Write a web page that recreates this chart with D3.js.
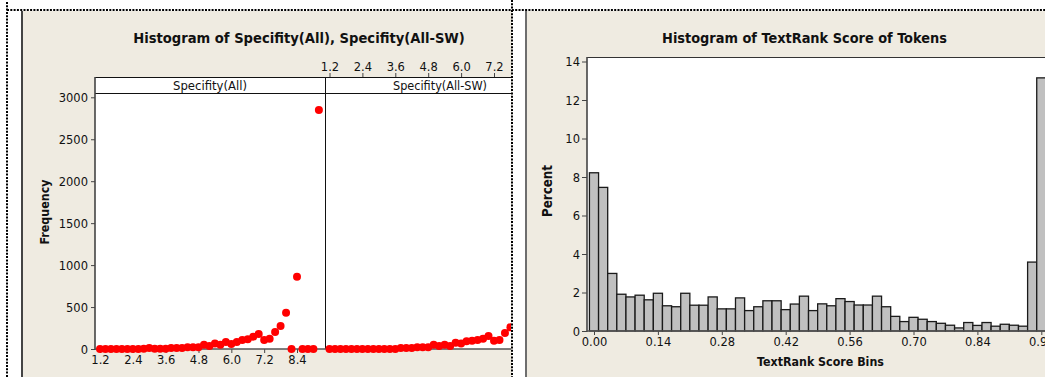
<!DOCTYPE html>
<html>
<head>
<meta charset="utf-8">
<script src="https://cdn.jsdelivr.net/npm/d3@7"></script>
<style>
  html, body { margin: 0; padding: 0; background: #ffffff; }
  svg { display: block; }
</style>
</head>
<body>
<svg id="chart" width="1045" height="377"></svg>
<script>
// ---------------- DATA ----------------
// Left chart: Specifity histograms (bin midpoints, frequency)
const specBins = [1.2, 1.4, 1.6, 1.8, 2.0, 2.2, 2.4, 2.6, 2.8, 3.0, 3.2, 3.4, 3.6, 3.8, 4.0, 4.2, 4.4, 4.6, 4.8, 5.0,
                  5.2, 5.4, 5.6, 5.8, 6.0, 6.2, 6.4, 6.6, 6.8, 7.0, 7.2, 7.4, 7.6, 7.8, 8.0, 8.2, 8.4, 8.6, 8.8, 9.0, 9.2];
const specAll = [0, 0, 0, 0, 0, 0, 0, 0, 4, 12, 4, 4, 4, 12, 12, 12, 20, 20, 20, 52,
                 36, 67, 52, 83, 60, 83, 107, 115, 147, 179, 107, 123, 202, 274, 433, 0, 860, 0, 0, 0, 2850];
const specAllSW = [0, 0, 0, 0, 0, 0, 0, 0, 0, 0, 0, 0, 0, 12, 12, 12, 20, 20, 20, 52,
                   36, 52, 36, 75, 67, 91, 99, 107, 123, 155, 99, 107, 191, 258];
const facetNames = ["Specifity(All)", "Specifity(All-SW)"];
const specTicksBottom = [1.2, 2.4, 3.6, 4.8, 6.0, 7.2, 8.4];
const specTicksTop = [1.2, 2.4, 3.6, 4.8, 6.0, 7.2];
const freqTicks = [0, 500, 1000, 1500, 2000, 2500, 3000];

// Right chart: TextRank score histogram (bin midpoints, percent)
const trBins = [0.00, 0.02, 0.04, 0.06, 0.08, 0.10, 0.12, 0.14, 0.16, 0.18, 0.20, 0.22, 0.24, 0.26, 0.28, 0.30, 0.32,
                0.34, 0.36, 0.38, 0.40, 0.42, 0.44, 0.46, 0.48, 0.50, 0.52, 0.54, 0.56, 0.58, 0.60, 0.62, 0.64, 0.66,
                0.68, 0.70, 0.72, 0.74, 0.76, 0.78, 0.80, 0.82, 0.84, 0.86, 0.88, 0.90, 0.92, 0.94, 0.96, 0.98];
const trPercent = [8.22, 7.46, 2.99, 1.91, 1.77, 1.86, 1.62, 1.96, 1.31, 1.26, 1.96, 1.34, 1.34, 1.77, 1.15, 1.15, 1.72,
                   1.06, 1.26, 1.57, 1.57, 1.11, 1.40, 1.81, 1.06, 1.41, 1.31, 1.68, 1.53, 1.35, 1.35, 1.81, 1.26, 0.76,
                   0.49, 0.71, 0.61, 0.49, 0.40, 0.30, 0.16, 0.44, 0.29, 0.44, 0.25, 0.35, 0.30, 0.25, 3.58, 13.15];
const trTicks = [0.00, 0.14, 0.28, 0.42, 0.56, 0.70, 0.84, 0.98];
const pctTicks = [0, 2, 4, 6, 8, 10, 12, 14];

// ---------------- STYLE ----------------
const FONT = "'DejaVu Sans Condensed', 'DejaVu Sans', sans-serif";
const BEIGE = "#efebe1";
const AXIS = "#444444";

const svg = d3.select("#chart");
svg.append("rect").attr("width", 1045).attr("height", 377).attr("fill", "#ffffff");

// panels
svg.append("rect").attr("x", 21).attr("y", 11).attr("width", 491).attr("height", 366).attr("fill", BEIGE);
svg.append("line").attr("x1", 22).attr("x2", 22).attr("y1", 11).attr("y2", 377).attr("stroke", "#444").attr("stroke-width", 2);
svg.append("rect").attr("x", 525).attr("y", 11).attr("width", 520).attr("height", 366).attr("fill", BEIGE);
svg.append("line").attr("x1", 526).attr("x2", 526).attr("y1", 11).attr("y2", 377).attr("stroke", "#6e6e6e").attr("stroke-width", 2);

function fitText(sel, target) {
  const node = sel.node();
  const w = node.getComputedTextLength();
  const fs = parseFloat(sel.attr("font-size"));
  if (w > 0) sel.attr("font-size", (fs * target / w).toFixed(2));
}

// tick font size fitted so that "2.4" is about 18.3px wide (as in the reference)
const probe = svg.append("text").attr("font-family", FONT).attr("font-size", 12).text("2.4");
const TICKFS = +(12 * 18.3 / probe.node().getComputedTextLength()).toFixed(2);
probe.remove();

// ================= LEFT CHART =================
const left = svg.append("g");
const plotL = 95, plotR = 511, facetW = 230, stripTop = 77, stripBot = 93, baseY = 349;

const y = d3.scaleLinear().domain([0, 3000]).range([349, 97.3]);
const xFacet = [
  d3.scaleLinear().domain([1.2, 8.4]).range([100, 297]),
  d3.scaleLinear().domain([1.2, 7.2]).range([329.5, 494])
];

left.append("defs").append("clipPath").attr("id", "clipL")
  .append("rect").attr("x", plotL).attr("y", stripTop - 20).attr("width", plotR - plotL).attr("height", baseY - stripTop + 30);

// plot background
left.append("rect").attr("x", plotL).attr("y", stripTop).attr("width", plotR - plotL).attr("height", baseY - stripTop).attr("fill", "#ffffff");

// strip
left.append("line").attr("x1", plotL).attr("x2", plotR).attr("y1", stripTop + 0.5).attr("y2", stripTop + 0.5).attr("stroke", "#111");
left.append("line").attr("x1", plotL).attr("x2", plotR).attr("y1", stripBot + 0.5).attr("y2", stripBot + 0.5).attr("stroke", "#111");
const stripW = [74, 94];
facetNames.forEach((n, i) => {
  const t = left.append("text").attr("x", plotL + facetW * i + facetW / 2).attr("y", 89.5)
    .attr("text-anchor", "middle").attr("font-family", FONT).attr("font-size", 12).attr("fill", "#111").text(n);
  fitText(t, stripW[i]);
});
// divider
left.append("line").attr("x1", plotL + facetW + 0.5).attr("x2", plotL + facetW + 0.5).attr("y1", stripTop).attr("y2", baseY)
  .attr("stroke", "#111");

// y axis
const yAxis = left.append("g").attr("transform", `translate(${plotL},0)`)
  .call(d3.axisLeft(y).tickValues(freqTicks).tickSize(4).tickPadding(3).tickFormat(d3.format("d")));
yAxis.select(".domain").remove();
yAxis.selectAll(".tick line").attr("stroke", AXIS);
yAxis.selectAll("text").attr("font-family", FONT).attr("font-size", TICKFS).attr("fill", "#111");
left.append("line").attr("x1", plotL).attr("x2", plotL).attr("y1", stripTop).attr("y2", baseY + 1)
  .attr("stroke", AXIS).attr("stroke-width", 1.6);

// bottom axis (left facet)
const xb = left.append("g").attr("transform", `translate(0,${baseY})`)
  .call(d3.axisBottom(xFacet[0]).tickValues(specTicksBottom).tickSize(4).tickPadding(2).tickFormat(d3.format(".1f")));
xb.select(".domain").remove();
xb.selectAll(".tick line").attr("stroke", AXIS);
xb.selectAll("text").attr("font-family", FONT).attr("font-size", TICKFS).attr("fill", "#111");

// top axis (right facet)
const xt = left.append("g").attr("transform", `translate(0,${stripTop})`)
  .call(d3.axisTop(xFacet[1]).tickValues(specTicksTop).tickSize(4).tickPadding(2).tickFormat(d3.format(".1f")));
xt.select(".domain").remove();
xt.selectAll(".tick line").attr("stroke", AXIS);
xt.selectAll("text").attr("font-family", FONT).attr("font-size", TICKFS).attr("fill", "#111");

left.append("line").attr("x1", plotL).attr("x2", plotR).attr("y1", baseY).attr("y2", baseY)
  .attr("stroke", "#555").attr("stroke-width", 1.6);

// points
const ptsG = left.append("g").attr("clip-path", "url(#clipL)");
[specAll, specAllSW].forEach((vals, i) => {
  ptsG.selectAll(null).data(vals).enter().append("circle")
    .attr("cx", (d, j) => xFacet[i](specBins[j]))
    .attr("cy", d => y(d))
    .attr("r", 4)
    .attr("fill", "#ff0000");
});

// titles
const tL = left.append("text").attr("x", 299).attr("y", 43).attr("text-anchor", "middle")
  .attr("font-family", FONT).attr("font-weight", "bold").attr("font-size", 14).attr("fill", "#111")
  .text("Histogram of Specifity(All), Specifity(All-SW)");
fitText(tL, 332);
const fq = left.append("text").attr("transform", "translate(49,212) rotate(-90)").attr("text-anchor", "middle")
  .attr("font-family", FONT).attr("font-weight", "bold").attr("font-size", 12).attr("fill", "#111").text("Frequency");
fitText(fq, 65);

// ================= RIGHT CHART =================
const right = svg.append("g");
const rL = 587, rTop = 57, rBase = 331;
const xTR = d3.scaleLinear().domain([0, 0.98]).range([594, 1041.3]);
const yTR = d3.scaleLinear().domain([0, 14]).range([331, 61.5]);
const bw = xTR(0.02) - xTR(0);

right.append("rect").attr("x", rL).attr("y", rTop).attr("width", 1045 - rL).attr("height", rBase - rTop).attr("fill", "#ffffff");
right.append("line").attr("x1", rL).attr("x2", 1045).attr("y1", rTop + 0.5).attr("y2", rTop + 0.5).attr("stroke", "#333");

right.selectAll(null).data(trPercent).enter().append("rect")
  .attr("x", (d, i) => xTR(trBins[i]) - bw / 2)
  .attr("y", d => yTR(d))
  .attr("width", bw)
  .attr("height", d => yTR(0) - yTR(d))
  .attr("fill", "#c0c0c0")
  .attr("stroke", "#1a1a1a")
  .attr("stroke-width", 1.3);

const yA = right.append("g").attr("transform", `translate(${rL},0)`)
  .call(d3.axisLeft(yTR).tickValues(pctTicks).tickSize(5).tickPadding(2));
yA.select(".domain").remove();
yA.selectAll(".tick line").attr("stroke", AXIS);
yA.selectAll("text").attr("font-family", FONT).attr("font-size", TICKFS).attr("fill", "#111");
right.append("line").attr("x1", rL).attr("x2", rL).attr("y1", rTop).attr("y2", rBase + 1)
  .attr("stroke", AXIS).attr("stroke-width", 1.6);

const xA = right.append("g").attr("transform", `translate(0,${rBase})`)
  .call(d3.axisBottom(xTR).tickValues(trTicks).tickSize(4).tickPadding(2).tickFormat(d3.format(".2f")));
xA.select(".domain").remove();
xA.selectAll(".tick line").attr("stroke", AXIS);
xA.selectAll("text").attr("font-family", FONT).attr("font-size", TICKFS).attr("fill", "#111");
right.append("line").attr("x1", rL).attr("x2", 1045).attr("y1", rBase).attr("y2", rBase)
  .attr("stroke", "#555").attr("stroke-width", 1.6);

const tR = right.append("text").attr("x", 804.5).attr("y", 43).attr("text-anchor", "middle")
  .attr("font-family", FONT).attr("font-weight", "bold").attr("font-size", 14).attr("fill", "#111")
  .text("Histogram of TextRank Score of Tokens");
fitText(tR, 285);
const xl = right.append("text").attr("x", 820.5).attr("y", 366).attr("text-anchor", "middle")
  .attr("font-family", FONT).attr("font-weight", "bold").attr("font-size", 12).attr("fill", "#111")
  .text("TextRank Score Bins");
fitText(xl, 127);
const pc = right.append("text").attr("transform", "translate(552,191) rotate(-90)").attr("text-anchor", "middle")
  .attr("font-family", FONT).attr("font-weight", "bold").attr("font-size", 12).attr("fill", "#111").text("Percent");
fitText(pc, 52);

// ================= DOTTED FRAME LINES =================
const dots = svg.append("g").attr("stroke", "#000").attr("stroke-width", 2).attr("stroke-dasharray", "2,1.3");
dots.append("line").attr("x1", 7).attr("x2", 7).attr("y1", 2).attr("y2", 377);
dots.append("line").attr("x1", 7).attr("x2", 1045).attr("y1", 10).attr("y2", 10);
dots.append("line").attr("x1", 512).attr("x2", 512).attr("y1", 0).attr("y2", 377);
</script>
</body>
</html>
